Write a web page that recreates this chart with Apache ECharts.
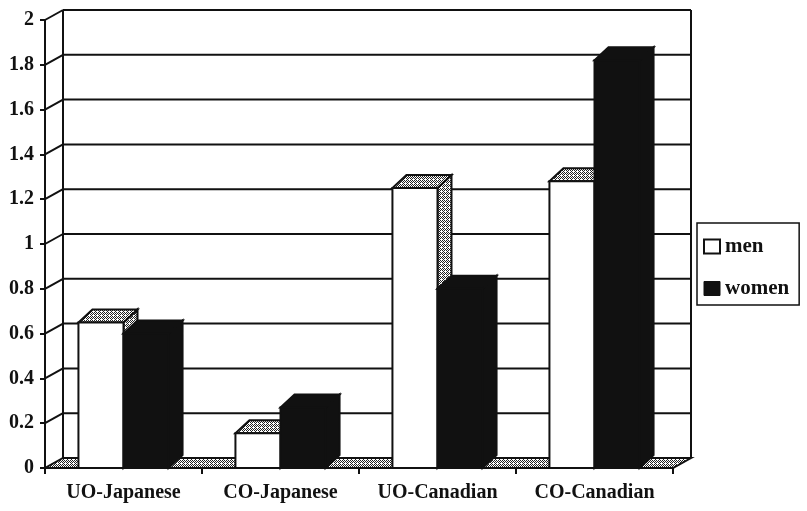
<!DOCTYPE html>
<html>
<head>
<meta charset="utf-8">
<script src="https://cdn.jsdelivr.net/npm/echarts@6/dist/echarts.min.js"></script>
<style>html,body{margin:0;padding:0;background:#fff;}#c{width:807px;height:511px;}</style>
</head>
<body>
<div id="c"></div>
<script>
const categories = ['UO-Japanese', 'CO-Japanese', 'UO-Canadian', 'CO-Canadian'];
const menValues = [0.65, 0.155, 1.25, 1.28];
const womenValues = [0.60, 0.27, 0.80, 1.82];
const yTicks = [0, 0.2, 0.4, 0.6, 0.8, 1, 1.2, 1.4, 1.6, 1.8, 2];

const FONT = "'Liberation Serif', 'Times New Roman', serif";
const INK = '#111';
const WALL_DX = 18, WALL_DY = -10;
const BAR_DX = 14, BAR_DY = -13;
const BAR_FRAC = 0.287;

function makePattern() {
  const c = document.createElement('canvas');
  c.width = 4; c.height = 4;
  const ctx = c.getContext('2d');
  ctx.fillStyle = '#fff';
  ctx.fillRect(0, 0, 4, 4);
  ctx.fillStyle = '#222';
  ctx.fillRect(0, 0, 1, 1); ctx.fillRect(2, 0, 1, 1);
  ctx.fillRect(1, 1, 1, 1); ctx.fillRect(3, 1, 1, 1);
  ctx.fillRect(0, 2, 1, 1); ctx.fillRect(2, 2, 1, 1);
  ctx.fillRect(3, 3, 1, 1);
  return { image: c, repeat: 'repeat' };
}
const dots = makePattern();

function wallItem(params, api) {
  const cs = params.coordSys;
  const x0 = cs.x, x1 = cs.x + cs.width;
  const v = api.value(1);
  const y = api.coord([0, v])[1];
  const ls = { stroke: INK, lineWidth: 2 };
  const children = [];
  if (params.dataIndex === 0) {
    children.push({
      type: 'polygon',
      shape: { points: [[x0, y], [x1, y], [x1 + WALL_DX, y + WALL_DY], [x0 + WALL_DX, y + WALL_DY]] },
      style: { fill: dots, stroke: INK, lineWidth: 2 }
    });
    const yTop = cs.y;
    children.push({ type: 'line', shape: { x1: x0 + WALL_DX, y1: yTop + WALL_DY, x2: x0 + WALL_DX, y2: y + WALL_DY }, style: ls });
    children.push({ type: 'line', shape: { x1: x1 + WALL_DX, y1: yTop + WALL_DY, x2: x1 + WALL_DX, y2: y + WALL_DY }, style: ls });
  } else {
    children.push({ type: 'line', shape: { x1: x0, y1: y, x2: x0 + WALL_DX, y2: y + WALL_DY }, style: ls });
    children.push({ type: 'line', shape: { x1: x0 + WALL_DX, y1: y + WALL_DY, x2: x1 + WALL_DX, y2: y + WALL_DY }, style: ls });
  }
  return { type: 'group', children };
}

function barRenderer(isMen) {
  return function (params, api) {
    const idx = api.value(0), v = api.value(1);
    const top = api.coord([idx, v]);
    const base = api.coord([idx, 0]);
    const band = api.size([1, 0])[0];
    const w = band * BAR_FRAC;
    const L = isMen ? top[0] - w : top[0];
    const R = L + w;
    const t = top[1], b = base[1];
    const faceFill = isMen ? '#fff' : INK;
    const shadeFill = isMen ? dots : INK;
    const st = { stroke: INK, lineWidth: 2, lineJoin: 'miter' };
    return {
      type: 'group',
      children: [
        { type: 'polygon', shape: { points: [[R, t], [R + BAR_DX, t + BAR_DY], [R + BAR_DX, b + BAR_DY], [R, b]] }, style: Object.assign({ fill: shadeFill }, st) },
        { type: 'polygon', shape: { points: [[L, t], [R, t], [R + BAR_DX, t + BAR_DY], [L + BAR_DX, t + BAR_DY]] }, style: Object.assign({ fill: shadeFill }, st) },
        { type: 'rect', shape: { x: L, y: t, width: w, height: b - t }, style: Object.assign({ fill: faceFill }, st) }
      ]
    };
  };
}

const chart = echarts.init(document.getElementById('c'), null, { renderer: 'canvas' });
chart.setOption({
  backgroundColor: '#fff',
  animation: false,
  grid: { left: 45, right: 134, top: 20, bottom: 43 },
  legend: {
    orient: 'vertical',
    left: 697, top: 223,
    padding: [13, 10, 6, 6],
    itemGap: 21,
    itemWidth: 16, itemHeight: 14,
    backgroundColor: '#fff',
    borderColor: INK, borderWidth: 1.5,
    textStyle: { fontFamily: FONT, fontWeight: 'bold', fontSize: 21, color: INK, lineHeight: 20 },
    data: [
      { name: 'men', icon: 'rect', itemStyle: { color: '#fff', borderColor: INK, borderWidth: 2 } },
      { name: 'women', icon: 'rect', itemStyle: { color: INK, borderColor: INK, borderWidth: 1 } }
    ]
  },
  xAxis: {
    type: 'category',
    data: categories,
    z: 10,
    axisLine: { lineStyle: { color: INK, width: 2 } },
    axisTick: { show: true, length: 6, lineStyle: { color: INK, width: 2 } },
    axisLabel: { fontFamily: FONT, fontWeight: 'bold', fontSize: 20, color: INK, margin: 15, interval: 0, hideOverlap: false },
    splitLine: { show: false }
  },
  yAxis: {
    type: 'value',
    min: 0, max: 2, interval: 0.2,
    z: 10,
    axisLine: { show: true, lineStyle: { color: INK, width: 2 } },
    axisTick: { show: true, length: 5, lineStyle: { color: INK, width: 2 } },
    axisLabel: { fontFamily: FONT, fontWeight: 'bold', fontSize: 20, color: INK, margin: 11 },
    splitLine: { show: false }
  },
  series: [
    {
      name: 'wall', type: 'custom', z: 1, silent: true,
      renderItem: wallItem,
      data: yTicks.map(v => [0, v])
    },
    {
      name: 'men', type: 'custom', z: 2,
      itemStyle: { color: '#fff', borderColor: INK },
      renderItem: barRenderer(true),
      data: menValues.map((v, i) => [i, v])
    },
    {
      name: 'women', type: 'custom', z: 3,
      itemStyle: { color: INK },
      renderItem: barRenderer(false),
      data: womenValues.map((v, i) => [i, v])
    }
  ]
});
</script>
</body>
</html>
